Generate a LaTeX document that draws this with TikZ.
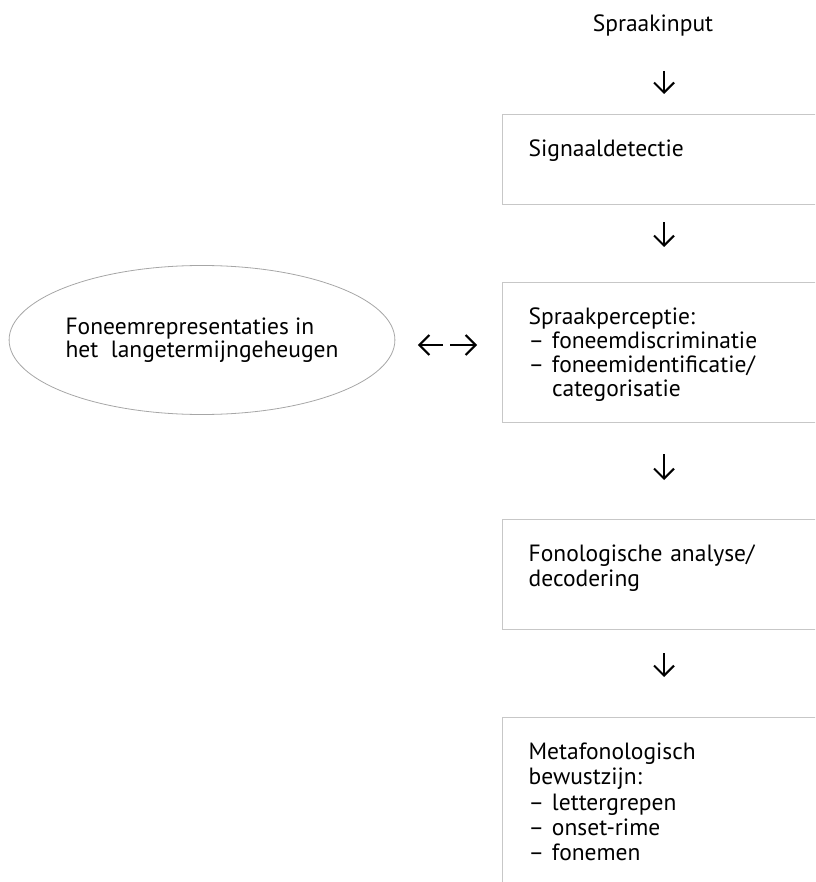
\documentclass[tikz,border=0pt]{standalone}
\usepackage{fontspec}
\setmainfont{PT Sans}
\usetikzlibrary{arrows.meta,shapes.geometric,positioning}

\tikzset{
  stage/.style={draw=black!22, line width=1.3pt, rectangle, anchor=north west,
    inner xsep=26pt, inner ysep=0pt, text width=290pt, align=left,
    text height=42pt, font=\fontsize{23.5}{24}\selectfont},
  store/.style={draw=black!35, line width=0.8pt, ellipse, inner sep=0pt,
    minimum width=381pt, minimum height=149pt, align=left,
    font=\fontsize{23.5}{23}\selectfont},
  flow/.style={-{Straight Barb[length=10pt,width=20pt]}, line width=2.1pt},
}

\begin{document}
\begin{tikzpicture}[x=1pt, y=-1pt]
        \useasboundingbox (0,0) rectangle (815,882);
        \clip (0,0) rectangle (815,882);

        \node[inner sep=0pt, font=\fontsize{23.5}{24}\selectfont] (input) at (653,25) {Spraakinput};
        \node[stage, text depth=48pt] (detectie) at (502,114) {Signaaldetectie};
        \node[stage, text depth=98pt] (perceptie) at (502,282)
            {Spraakperceptie:\\– foneemdiscriminatie\\– foneemidentificatie/\\\phantom{– }categorisatie};
        \node[stage, text depth=68pt, font=\fontsize{23.5}{25}\selectfont] (analyse) at (502,519)
            {Fonologische analyse/\\decodering};
        \node[stage, text depth=200pt, font=\fontsize{23.5}{25.3}\selectfont] (bewust) at (502,717)
            {Metafonologisch\\bewustzijn:\\– lettergrepen\\– onset-rime\\– fonemen};
        \node[store] (geheugen) at (202,340)
            {Foneemrepresentaties in\\het\ \ langetermijngeheugen};

        \coordinate (axis) at (664,0);
        \coordinate (lr) at (446.5,345);

        \draw[flow, shorten <=35pt, shorten >=20pt] (input.south -| axis) -- (detectie.north -| axis);
        \draw[flow, shorten <=17pt, shorten >=35pt] (detectie.south -| axis) -- (perceptie.north -| axis);
        \draw[flow, shorten <=31pt, shorten >=39pt] (perceptie.south -| axis) -- (analyse.north -| axis);
        \draw[flow, shorten <=23pt, shorten >=40pt] (analyse.south -| axis) -- (bewust.north -| axis);
        \draw[flow, shorten <=3.5pt, shorten >=22.5pt] (lr) -- (geheugen.east |- lr);
        \draw[flow, shorten <=3.5pt, shorten >=25pt] (lr) -- (perceptie.west |- lr);

\end{tikzpicture}
\end{document}
